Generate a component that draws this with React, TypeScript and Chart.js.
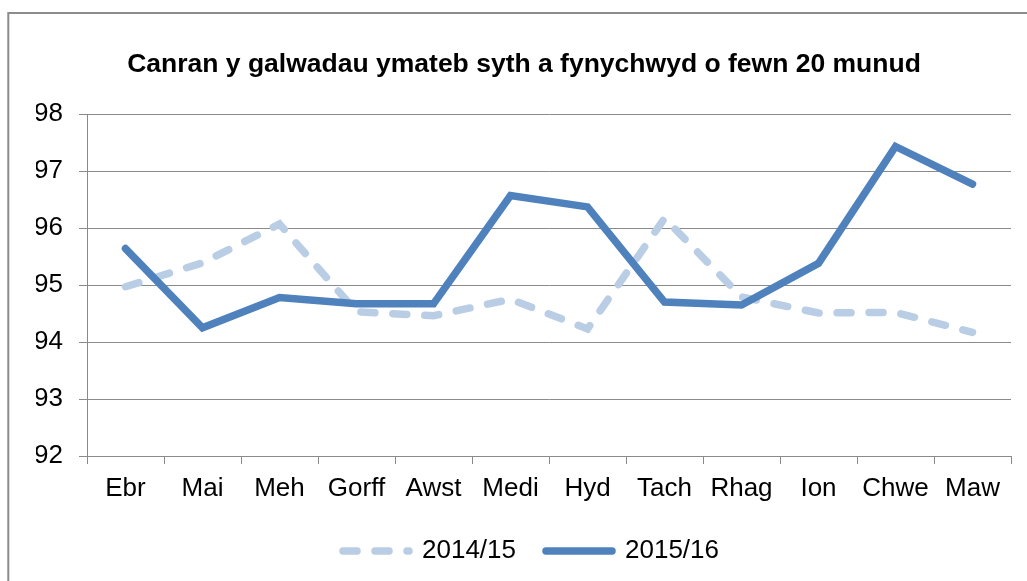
import React, { useEffect, useRef } from "react";
import { Chart, registerables } from "chart.js";

Chart.register(...registerables);

const categories = ["Ebr", "Mai", "Meh", "Gorff", "Awst", "Medi", "Hyd", "Tach", "Rhag", "Ion", "Chwe", "Maw"];
const series2014 = [94.97, 95.39, 96.07, 94.53, 94.46, 94.75, 94.23, 96.17, 94.79, 94.51, 94.52, 94.17];
const series2015 = [95.64, 94.25, 94.78, 94.67, 94.67, 96.57, 96.37, 94.7, 94.65, 95.38, 97.43, 96.77];
const seriesLabels = ["2014/15", "2015/16"];
const yMin = 92;
const yMax = 98;
const titleText = "Canran y galwadau ymateb syth a fynychwyd o fewn 20 munud";

const FONT = "'Liberation Sans', Arial, sans-serif";
const GRID = "#8a8a8a";

const framePlugin = {
  id: "frame",
  afterLayout(chart: any) {
    const lg = chart.legend;
    if (lg) {
      lg.left += 7.5;
      lg.right += 7.5;
    }
  },
  afterDraw(chart: any) {
    const ctx = chart.ctx;
    ctx.save();
    ctx.strokeStyle = "#8c8c8c";
    ctx.lineWidth = 2;
    ctx.beginPath();
    ctx.moveTo(8.3, 700);
    ctx.lineTo(8.3, 13);
    ctx.lineTo(1200, 13);
    ctx.stroke();
    ctx.fillStyle = "#000";
    ctx.font = "bold 26.5px " + FONT;
    ctx.textAlign = "center";
    ctx.textBaseline = "alphabetic";
    ctx.fillText(titleText, 524, 72);
    ctx.restore();
  },
};

export default function App() {
  const ref = useRef<HTMLCanvasElement>(null);
  useEffect(() => {
    document.body.style.overflow = "hidden";
    const chart = new Chart(ref.current!, {
      type: "line",
      data: {
        labels: categories,
        datasets: [
          {
            label: seriesLabels[0],
            data: series2014,
            borderColor: "#B9CDE5",
            backgroundColor: "#B9CDE5",
            borderWidth: 7.5,
            borderDash: [14, 18],
            borderCapStyle: "round",
            pointRadius: 0,
            tension: 0,
            fill: false,
            order: 1,
          },
          {
            label: seriesLabels[1],
            data: series2015,
            borderColor: "#4F81BD",
            backgroundColor: "#4F81BD",
            borderWidth: 7.5,
            borderCapStyle: "round",
            pointRadius: 0,
            tension: 0,
            fill: false,
            order: 0,
          },
        ],
      },
      options: {
        responsive: false,
        animation: false,
        devicePixelRatio: 1,
        layout: { padding: { top: 114, left: 36, right: 16, bottom: 7 } },
        plugins: {
          title: { display: false },
          tooltip: { enabled: false },
          legend: {
            position: "bottom",
            labels: {
              usePointStyle: true,
              pointStyle: "line",
              pointStyleWidth: 66,
              padding: 30,
              color: "#000",
              font: { family: FONT, size: 26 },
              sort: (a: any, b: any) => a.datasetIndex - b.datasetIndex,
              generateLabels: (c: any) => {
                const items = (Chart as any).defaults.plugins.legend.labels.generateLabels(c);
                items.forEach((it: any) => {
                  const ds = c.data.datasets[it.datasetIndex];
                  it.lineDash = ds.borderDash || [];
                  it.lineCap = "round";
                  it.lineWidth = 7.5;
                  it.strokeStyle = ds.borderColor;
                });
                return items;
              },
            },
          },
        },
        scales: {
          x: {
            offset: true,
            grid: { offset: true, drawOnChartArea: false, color: GRID, tickLength: 8, lineWidth: 1 },
            border: { color: GRID, width: 1 },
            ticks: { color: "#000", font: { family: FONT, size: 26 }, padding: 9, maxRotation: 0, autoSkip: false },
            afterFit: (s: any) => { s.height = 52; },
          },
          y: {
            min: yMin,
            max: yMax,
            grid: { color: GRID, tickLength: 8, lineWidth: 1 },
            border: { color: GRID, width: 1 },
            ticks: { stepSize: 1, color: "#000", font: { family: FONT, size: 26 }, padding: 16 },
            afterFit: (s: any) => { s.width = 51; },
          },
        },
      },
      plugins: [framePlugin],
    } as any);
    return () => chart.destroy();
  }, []);
  return (
    <div style={{ position: "fixed", left: 0, top: 0, width: 1027, height: 581, background: "#fff" }}>
      <canvas ref={ref} width={1027} height={581} style={{ display: "block" }} />
    </div>
  );
}
